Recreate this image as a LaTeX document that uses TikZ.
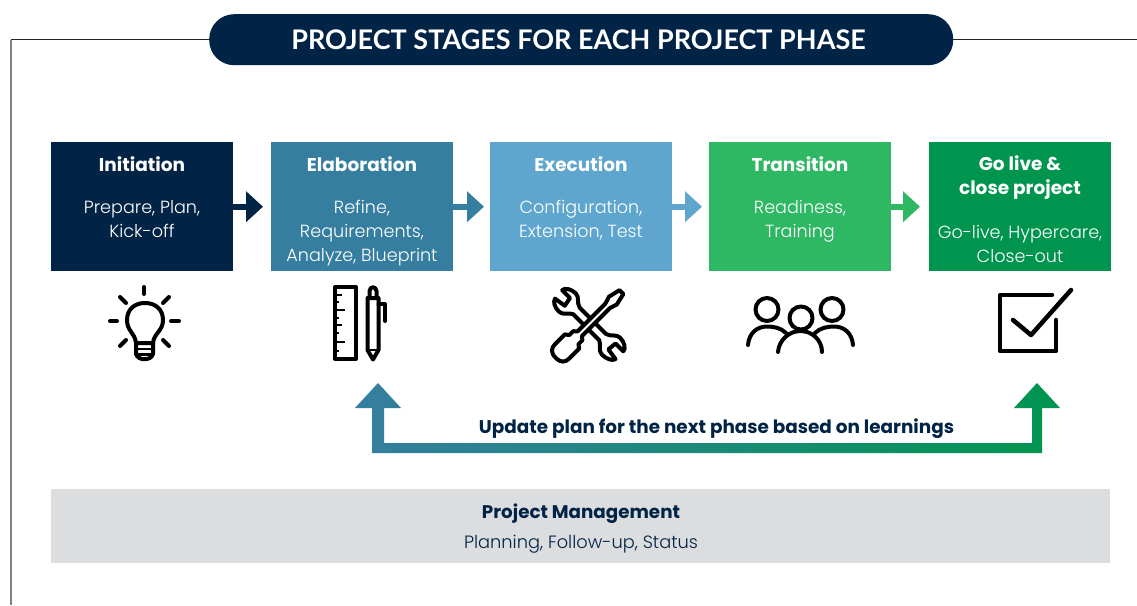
\documentclass[tikz,border=0pt]{standalone}
\usepackage{fontspec}
\setmainfont{Poppins}
\newfontfamily\titlef{Lato}
\newfontfamily\lightf{Poppins Light}
\usetikzlibrary{arrows.meta}
\definecolor{navy}{HTML}{012345}
\definecolor{cElab}{HTML}{357EA0}
\definecolor{cExec}{HTML}{5FA6CF}
\definecolor{cTran}{HTML}{2FB863}
\definecolor{cGo}{HTML}{00954F}
\definecolor{band}{HTML}{DCDDDF}
\tikzset{
 x=1pt,y=-1pt,
 phase/.style={anchor=north west,minimum width=182pt,minimum height=129pt,inner sep=0pt,draw=none},
 head/.style={text=white,font=\fontsize{18.5}{24}\selectfont\bfseries,align=center,inner sep=0pt},
 body/.style={text=white,font=\lightf\fontsize{17.6}{24}\selectfont,align=center,inner sep=0pt},
 flow/.style={line width=6pt,-{Triangle[length=17pt,width=30pt]}},
 icon/.style={line width=4pt,line cap=round,line join=round,draw=black},
}
\begin{document}
\begin{tikzpicture}
\useasboundingbox (0,0) rectangle (1137,605);
\fill[white] (0,0) rectangle (1137,605);
% frame
\node[minimum width=744pt,minimum height=51pt,inner sep=0pt,rounded corners=25pt,fill=navy,anchor=north west,text=white] (title) at (209,14) {};
\node[text=white,inner sep=0pt,font=\titlef\fontsize{27}{30}\selectfont\bfseries] (titletext) at (578.5,40) {PROJECT STAGES FOR EACH PROJECT PHASE};
\coordinate (fl) at (11,39.5);
\coordinate (fb) at (11,605);
\coordinate (fr) at (1137,39.5);
\draw[line width=1pt,black!85] (fl) -- (title.west |- fl);
\draw[line width=1pt,black!85] (title.east |- fr) -- (fr);
\draw[line width=1.2pt,black!50] (fl) -- (fb);
% boxes
\node[phase,fill=navy] (b1) at (51,142) {};
\node[phase,fill=cElab] (b2) at (271,142) {};
\node[phase,fill=cExec] (b3) at (490,142) {};
\node[phase,fill=cTran] (b4) at (709,142) {};
\node[phase,fill=cGo] (b5) at (929,142) {};
% arrows
\draw[flow,navy,shorten >=8pt] (b1.east) -- (b2.west);
\draw[flow,cElab,shorten >=6pt] (b2.east) -- (b3.west);
\draw[flow,cExec,shorten >=7pt] (b3.east) -- (b4.west);
\draw[flow,cTran,shorten >=9pt] (b4.east) -- (b5.west);
% text
\node[head] (h1) at (142,164.5) {Initiation};
\node[head] (h2) at (362,164.5) {Elaboration};
\node[head] (h3) at (581,164.5) {Execution};
\node[head] (h4) at (800,164.5) {Transition};
\node[head] (h5) at (1020,177.5) {Go live \&\\close project};
\node[body] (t1) at (142,219.5) {Prepare, Plan,\\Kick-off};
\node[body] (t2) at (362,233) {Refine,\\Requirements,\\Analyze, Blueprint};
\node[body] (t3) at (581,220) {Configuration,\\Extension, Test};
\node[body] (t4) at (800,221) {Readiness,\\Training};
\node[body] (t5) at (1020,243.5) {Go-live, Hypercare,\\Close-out};
% bulb
\begin{scope}[icon]
\draw (144,287) -- (144,294);
\draw (110,321) -- (117,321);
\draw (171,321) -- (179,321);
\draw (120,297) -- (126,303);
\draw (169,297) -- (163,303);
\draw (120,346) -- (126,340);
\draw (169,346) -- (163,340);
\draw (136,343) .. controls (135,333) and (127,331) .. (127,320) .. controls (127,309) and (135,303) .. (145,303) .. controls (155,303) and (163,309) .. (163,320) .. controls (163,331) and (154,333) .. (153,343) -- cycle;
\draw (136,343) -- (136,354) .. controls (138,361) and (151,361) .. (153,354) -- (153,343);
\draw[line width=2.4pt] (136,349) -- (153,349);
\draw[line width=2.4pt] (136,354.5) -- (153,354.5);
% ruler
\draw (335,287) rectangle (356,359);
\foreach \yy/\ll in {295/342,302/339,310/345,318/339,325/342,333/339,342/345,351/339}
  \draw[line width=2.8pt,line cap=butt] (335,\yy) -- (\ll,\yy);
% pen
\draw (367.5,298) -- (367.5,350) -- (373,359.5) -- (378.5,350) -- (378.5,298) -- cycle;
\draw (369.5,298) -- (369.5,291) .. controls (370,286) and (376,286) .. (376.5,291) -- (376.5,298);
\draw[line width=2.8pt] (367.5,350) -- (378.5,350);
\draw (378.5,304) -- (385,304) -- (385,321);
\end{scope}
% wrench
\begin{scope}[shift={(589.5,324)},rotate=-45,scale=0.92]
\draw[icon,fill=white] (-20,-5) .. controls (-26,-6) and (-28,-13) .. (-34,-13) .. controls (-41,-13) and (-47,-9) .. (-47,-5) -- (-35,-5) -- (-33,5) -- (-46,7) .. controls (-45,11) and (-40,14) .. (-33,14) .. controls (-27,14) and (-25,7) .. (-20,5) -- (20,5) .. controls (25,7) and (27,14) .. (33,14) .. controls (40,14) and (46,11) .. (47,7) -- (34,5) -- (35,-5) -- (47,-5) .. controls (47,-9) and (41,-13) .. (34,-13) .. controls (28,-13) and (26,-6) .. (20,-5) -- cycle;
\end{scope}
% screwdriver
\begin{scope}[shift={(589.5,324)},rotate=45,scale=0.92]
\draw[icon,fill=white] (-52,0) .. controls (-52,-8) and (-48,-11) .. (-42,-11) -- (-27,-11) -- (-24,-7) -- (-18,-7) -- (-15,-3.5) -- (28,-3.5) -- (36,-6) -- (49,-3) -- (49,3) -- (36,6) -- (28,3.5) -- (-15,3.5) -- (-18,7) -- (-24,7) -- (-27,11) -- (-42,11) .. controls (-48,11) and (-52,8) .. (-52,0) -- cycle;
\end{scope}
% people
\begin{scope}[icon]
\draw (767,309.5) circle[radius=11.5];
\draw (832,309.5) circle[radius=11.5];
\draw (748,345) .. controls (749,333) and (757,326.5) .. (767,326.5) .. controls (774,326.5) and (781,328) .. (786,333);
\draw (853,345) .. controls (852,333) and (844,326.5) .. (834,326.5) .. controls (827,326.5) and (820,328) .. (815,333);
\draw (801,318) circle[radius=11.5];
\draw (778,352) .. controls (779,340) and (789,331) .. (800.5,331) .. controls (812,331) and (822,340) .. (822,352);
% check box
\draw[line width=4.5pt] (1052,295) -- (1000,295) -- (1000,351) -- (1056,351) -- (1056,320);
\draw[line width=4.5pt] (1013,320) -- (1031,335) -- (1071,290);
\end{scope}
% feedback arrow
\coordinate (fa1) at (378,383);
\coordinate (fa2) at (1037,383);
\shade[left color=cElab,right color=cGo] (fa1) -- (401,408) -- (384,408) -- (384,443) -- (1032,443) -- (1032,408) -- (1014,408) -- (fa2) -- (1060,408) -- (1042,408) -- (1042,453) -- (372,453) -- (372,408) -- (355,408) -- cycle;
\node[inner sep=0pt,text=navy,font=\fontsize{18.4}{20}\selectfont\bfseries] (update) at (716.5,428.5) {Update plan for the next phase based on learnings};
% band
\node[anchor=north west,minimum width=1059pt,minimum height=74pt,inner sep=0pt,fill=band] (pm) at (51,489) {};
\node[inner sep=0pt,text=navy,font=\fontsize{18.3}{20}\selectfont\bfseries] (pmh) at (581,513.5) {Project Management};
\node[inner sep=0pt,text=navy,font=\lightf\fontsize{17.8}{20}\selectfont] (pmt) at (581,544) {Planning, Follow-up, Status};
\end{tikzpicture}
\end{document}
